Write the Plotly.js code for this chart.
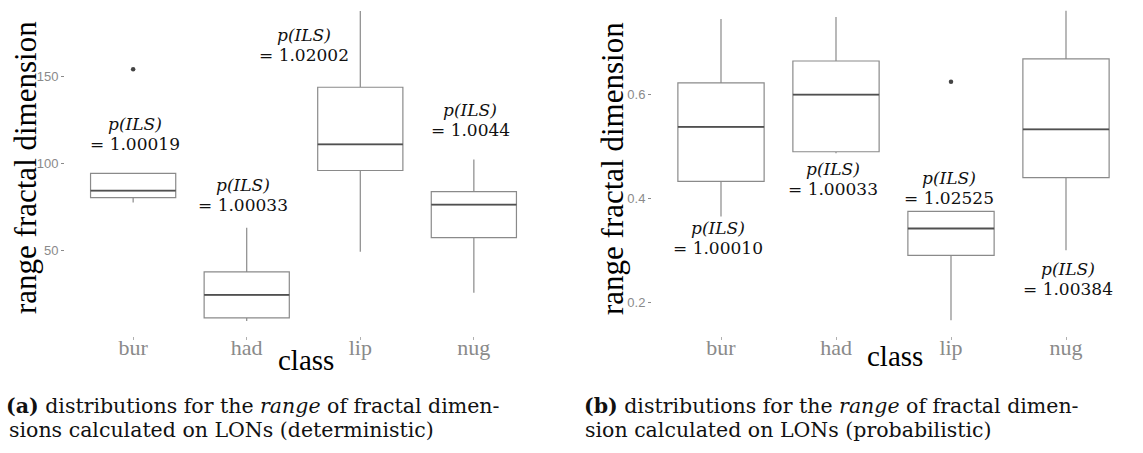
<!DOCTYPE html>
<html>
<head>
<meta charset="utf-8">
<script src="https://cdn.plot.ly/plotly-3.0.1.min.js"></script>
<style>html,body{margin:0;padding:0;background:#fff;}#chart{width:1143px;height:453px;}</style>
</head>
<body>
<div id="chart"></div>
<script>
// ---------- data ----------
const categories = ['bur', 'had', 'lip', 'nug'];

// (a) deterministic
const lowerA  = [77.6, 9.8, 49.4, 26.0];
const q1A     = [80.5, 11.5, 96.0, 57.5];
const medianA = [84.5, 24.7, 111.0, 76.4];
const q3A     = [94.3, 37.9, 143.7, 83.9];
const upperA  = [94.3, 63.2, 187.4, 102.3];
const outlierCatA = ['bur'];
const outlierValA = [154.0];
const pilsA   = ['1.00019', '1.00033', '1.02002', '1.0044'];

// (b) probabilistic
const lowerB  = [0.365, 0.487, 0.165, 0.300];
const q1B     = [0.433, 0.490, 0.290, 0.440];
const medianB = [0.538, 0.600, 0.342, 0.533];
const q3B     = [0.623, 0.665, 0.375, 0.669];
const upperB  = [0.746, 0.750, 0.375, 0.762];
const outlierCatB = ['lip'];
const outlierValB = [0.625];
const pilsB   = ['1.00010', '1.00033', '1.02525', '1.00384'];

// label anchor positions (category offset, value)
const labelXA = [1.02, 1.97, 2.50, 3.97];
const labelYA = [116.9, 81.7, 167.9, 124.9];
const labelXB = [0.97, 1.97, 2.98, 4.02];
const labelYB = [0.3227, 0.4374, 0.4210, 0.2445];

// ---------- styling ----------
const W = 1143, H = 453, PLOT_H = 336;
const px = x => x / W;
const py = y => (PLOT_H - y) / PLOT_H;
const SERIF = '"Liberation Serif", "Times New Roman", serif';
const CAPSERIF = '"DejaVu Serif", "Liberation Serif", serif';
const boxLine = '#8a8a8a';
const medLine = '#505050';
const pos = categories.map((c, i) => i + 1);
const catPos = c => categories.indexOf(c) + 1;

function boxTrace(lo, q1, med, q3, hi, xa, ya) {
  return {
    type: 'box', x: pos, q1: q1, median: med, q3: q3,
    lowerfence: lo, upperfence: hi, width: 0.75, whiskerwidth: 0,
    fillcolor: '#ffffff', line: {color: boxLine, width: 1.2},
    boxpoints: false, hoverinfo: 'skip', showlegend: false,
    xaxis: xa, yaxis: ya
  };
}
function medianTrace(med, xa, ya) {
  const xs = [], ys = [];
  med.forEach((m, i) => { xs.push(pos[i] - 0.375, pos[i] + 0.375, null); ys.push(m, m, null); });
  return {type: 'scatter', mode: 'lines', x: xs, y: ys, line: {color: medLine, width: 1.8},
          hoverinfo: 'skip', showlegend: false, xaxis: xa, yaxis: ya};
}
function outlierTrace(cats, vals, xa, ya) {
  return {type: 'scatter', mode: 'markers', x: cats.map(catPos), y: vals,
          marker: {color: '#444444', size: 4.5}, hoverinfo: 'skip', showlegend: false,
          xaxis: xa, yaxis: ya};
}

const data = [
  boxTrace(lowerA, q1A, medianA, q3A, upperA, 'x', 'y'),
  medianTrace(medianA, 'x', 'y'),
  outlierTrace(outlierCatA, outlierValA, 'x', 'y'),
  boxTrace(lowerB, q1B, medianB, q3B, upperB, 'x2', 'y2'),
  medianTrace(medianB, 'x2', 'y2'),
  outlierTrace(outlierCatB, outlierValB, 'x2', 'y2')
];

const xaxisBase = {
  range: [0.4, 4.6], tickmode: 'array', tickvals: pos, ticktext: categories,
  showgrid: false, zeroline: false, showline: false,
  ticks: 'outside', ticklen: 3, tickcolor: '#b0b0b0', tickwidth: 1,
  ticklabelstandoff: -11,
  tickfont: {family: SERIF, size: 22, color: '#8a8a8a'}, fixedrange: true
};
const yaxisBase = {
  showgrid: false, zeroline: false, showline: false,
  ticks: 'outside', ticklen: 3, tickcolor: '#8a8a8a', tickwidth: 1,
  tickfont: {family: '"Liberation Sans", Arial, sans-serif', size: 13, color: '#8a8a8a'},
  fixedrange: true
};

const annotations = [];
const labelFont = {family: CAPSERIF, size: 17, color: '#111'};
function addLabels(xs, ys, vals, xr, yr) {
  vals.forEach((v, i) => {
    annotations.push({xref: xr, yref: yr, x: xs[i], y: ys[i], yshift: 10, showarrow: false,
      text: '<i>p(ILS)</i>', font: labelFont, xanchor: 'center', yanchor: 'middle'});
    annotations.push({xref: xr, yref: yr, x: xs[i], y: ys[i], yshift: -10, showarrow: false,
      text: '= ' + v, font: labelFont, xanchor: 'center', yanchor: 'middle'});
  });
}
addLabels(labelXA, labelYA, pilsA, 'x', 'y');
addLabels(labelXB, labelYB, pilsB, 'x2', 'y2');

const titleFont = {family: SERIF, size: 31, color: '#000'};
annotations.push(
  {xref: 'paper', yref: 'paper', x: px(25), y: py(168), text: 'range fractal dimension', textangle: -90,
   showarrow: false, font: titleFont, xanchor: 'center', yanchor: 'middle'},
  {xref: 'paper', yref: 'paper', x: px(612), y: py(169), text: 'range fractal dimension', textangle: -90,
   showarrow: false, font: titleFont, xanchor: 'center', yanchor: 'middle'},
  {xref: 'paper', yref: 'paper', x: px(306), y: py(360), text: 'class',
   showarrow: false, font: {family: SERIF, size: 29, color: '#000'}, xanchor: 'center', yanchor: 'middle'},
  {xref: 'paper', yref: 'paper', x: px(895), y: py(356), text: 'class',
   showarrow: false, font: {family: SERIF, size: 29, color: '#000'}, xanchor: 'center', yanchor: 'middle'}
);

const capFont = {family: CAPSERIF, size: 20.5, color: '#111'};
const capBase = {xref: 'paper', yref: 'paper', xanchor: 'left', yanchor: 'middle', showarrow: false,
                 font: capFont};
annotations.push(
  Object.assign({}, capBase, {x: px(4), y: py(406),
   text: '<b>(a)</b> distributions for the <i>range</i> of fractal dimen-'}),
  Object.assign({}, capBase, {x: px(7), y: py(430),
   text: 'sions calculated on LONs (deterministic)'}),
  Object.assign({}, capBase, {x: px(582), y: py(406),
   text: '<b>(b)</b> distributions for the <i>range</i> of fractal dimen-'}),
  Object.assign({}, capBase, {x: px(583), y: py(430),
   text: 'sion calculated on LONs (probabilistic)'})
);

const layout = {
  width: W, height: H,
  margin: {l: 0, r: 0, t: 0, b: H - PLOT_H, pad: 0},
  paper_bgcolor: '#ffffff', plot_bgcolor: '#ffffff',
  showlegend: false,
  xaxis: Object.assign({}, xaxisBase, {domain: [px(65), px(542)], anchor: 'y'}),
  yaxis: Object.assign({}, yaxisBase, {domain: [0, 1], range: [1.15, 193.7], tickvals: [50, 100, 150], anchor: 'x'}),
  xaxis2: Object.assign({}, xaxisBase, {domain: [px(652), px(1135)], anchor: 'y2'}),
  yaxis2: Object.assign({}, yaxisBase, {domain: [0, 1], range: [0.1346, 0.7827], tickvals: [0.2, 0.4, 0.6], anchor: 'x2'}),
  annotations: annotations
};

Plotly.newPlot('chart', data, layout, {displayModeBar: false, staticPlot: true});
</script>
</body>
</html>
